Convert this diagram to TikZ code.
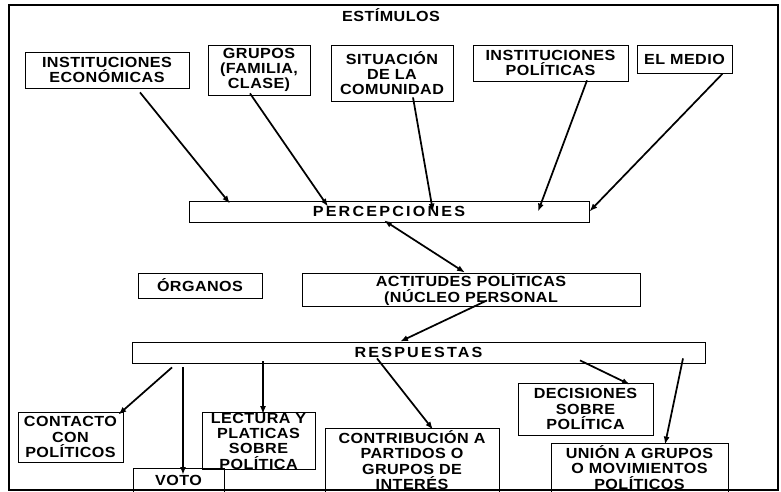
\documentclass[tikz,border=0pt]{standalone}
\usepackage{fontspec}
\setmainfont{Liberation Sans}
\newfontfamily\boxfont[FakeStretch=1.1,LetterSpace=3]{Liberation Sans}
\newfontfamily\widefont[FakeStretch=1.1,LetterSpace=15]{Liberation Sans}
\usepackage{tikz}
\usetikzlibrary{calc,arrows.meta}

\begin{document}
\begin{tikzpicture}[x=0.75pt,y=-0.75pt,
	caja/.style={draw,line width=0.6pt,align=center,inner xsep=2pt,inner ysep=0pt,font=\boxfont\bfseries\fontsize{11}{11.5}\selectfont},
	flecha/.style={black,line width=1.3pt,-{Latex[length=6pt,width=4.5pt]}}]
	\useasboundingbox (0,0) rectangle (781,492);
	\draw[line width=1.8pt] (9,5) rectangle (778,490);
	
	\node[font=\boxfont\bfseries\fontsize{11}{12}\selectfont] (est) at (391,15) {ESTÍMULOS};
	
	%estimulos
	\node[caja,minimum width=123pt,minimum height=27pt] (econ) at (107,70) {INSTITUCIONES\\ECONÓMICAS};
	\node[caja,minimum width=76.5pt,minimum height=37.5pt] (grupos) at (259,70) {GRUPOS\\(FAMILIA,\\CLASE)};
	\node[caja,minimum width=91.5pt,minimum height=42pt] (situ) at (392,73) {SITUACIÓN\\DE LA\\COMUNIDAD};
	\node[caja,minimum width=116.25pt,minimum height=27pt] (ipol) at (550.5,63) {INSTITUCIONES\\POLÍTICAS};
	\node[caja,minimum width=71.25pt,minimum height=21pt,anchor=north] (medio) at (684.5,45) {EL MEDIO};
	
	\node[caja,minimum width=300pt,minimum height=15.75pt,font=\widefont\bfseries\fontsize{11}{12}\selectfont] (percep) at (389,211.5) {PERCEPCIONES};
	
	\node[caja,minimum width=93pt,minimum height=18.75pt] (org) at (200,285.5) {ÓRGANOS};
	\node[caja,minimum width=253.5pt,minimum height=24.75pt] (act) at (471,289.5) {ACTITUDES POLÍTICAS\\(NÚCLEO PERSONAL};
	
	\node[caja,minimum width=429.75pt,minimum height=15.75pt,font=\widefont\bfseries\fontsize{11}{12}\selectfont] (resp) at (418.5,352.5) {RESPUESTAS};
	
	%respuestas
	\node[caja,minimum width=78.75pt,minimum height=37.5pt] (contacto) at (70.5,437) {CONTACTO\\CON\\POLÍTICOS};
	\node[caja,minimum width=68.25pt,minimum height=18pt] (voto) at (178.5,480) {VOTO};
	\node[caja,minimum width=84.75pt,minimum height=42.75pt] (lectura) at (258.5,441) {LECTURA Y\\PLATICAS\\SOBRE\\POLÍTICA};
	\node[caja,minimum width=130.5pt,minimum height=48pt] (contrib) at (412,460) {CONTRIBUCIÓN A\\PARTIDOS O\\GRUPOS DE\\INTERÉS};
	\node[caja,minimum width=101.25pt,minimum height=39pt] (decis) at (585.5,409) {DECISIONES\\SOBRE\\POLÍTICA};
	\node[caja,minimum width=132.75pt,minimum height=36.75pt] (union) at (639.5,467.5) {UNIÓN A GRUPOS\\O MOVIMIENTOS\\POLÍTICOS};
	
	\draw[flecha] ($(econ.south)+(33,4)$) -- ($(percep.north)+(-159,3)$);
	\draw[flecha] ($(grupos.south)+(-9,-2)$) -- ($(percep.north)+(-61,6)$);
	\draw[flecha] ($(situ.south)+(21,-4)$) -- ($(percep.north)+(44,11)$);
	\draw[flecha] ($(ipol.south)+(36.5,-1)$) -- ($(percep.north)+(149,11)$);
	\draw[flecha] ($(medio.south east)+(-10,0)$) -- (percep.east);
	
	\draw[flecha,{Latex[length=6pt,width=4.5pt]}-{Latex[length=6pt,width=4.5pt]}] ($(percep.south)+(-5,-2)$) -- ($(act.north)+(-6,0)$);
	\draw[flecha] ($(act.south)+(16,-6)$) -- ($(resp.north)+(-18.5,0)$);
	
	\draw[flecha] ($(resp.south)+(-246.5,4)$) -- ($(contacto.north east)+(-5,3)$);
	\draw[flecha] ($(resp.south)+(-235.5,4)$) -- ($(voto.center)+(4.5,-5)$);
	\draw[flecha] ($(resp.south)+(-155.5,-2)$) -- ($(lectura.north)+(4.5,2)$);
	\draw[flecha] ($(resp.south)+(-41.5,-5)$) -- ($(contrib.north)+(21,2)$);
	\draw[flecha] ($(resp.south)+(161.5,-3)$) -- ($(decis.north)+(44.5,2)$);
	\draw[flecha] ($(resp.south)+(264.5,-5)$) -- ($(union.north)+(25.5,2)$);
\end{tikzpicture}
\end{document}
